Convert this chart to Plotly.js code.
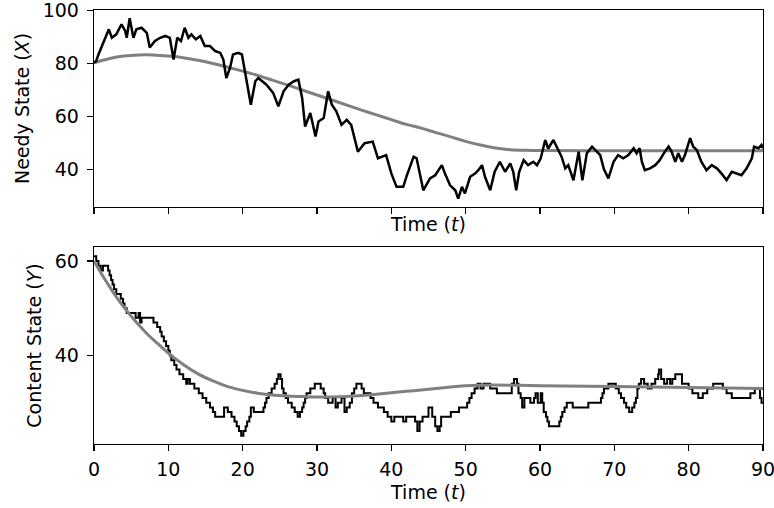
<!DOCTYPE html>
<html>
<head>
<meta charset="utf-8">
<script src="https://cdn.plot.ly/plotly-3.0.1.min.js"></script>
<style>html,body{margin:0;padding:0;background:#fff;}#chart{width:774px;height:508px;}</style>
</head>
<body>
<div id="chart"></div>
<script>
// Top panel: Needy State X(t), stochastic path
const needyT = [0,0.3,0.6,1,1.5,2,2.4,3,3.7,4.2,4.4,4.8,5.3,5.7,6.4,7.1,7.5,8.2,8.9,9.6,10.2,10.7,11.2,11.7,12.2,12.7,13.1,13.7,14.3,14.9,15.6,16.3,17,17.4,17.8,18.3,18.7,19.4,19.9,20.5,21.1,21.7,22.1,23.2,24.1,24.8,25.5,26.2,26.9,27.5,28,28.4,29.1,29.8,30.2,30.9,31.5,32,32.6,33.3,34,34.6,35.5,36.4,37.5,38.2,39.3,40,40.7,41.6,42.1,43,43.4,44.3,45.2,45.9,46.8,47.2,47.9,48.6,49,49.5,49.9,50.6,51.3,51.7,52.2,52.6,53.3,53.9,54.6,55.3,56,56.4,56.8,57.2,57.8,58.4,59.1,59.6,60.1,60.7,61.1,61.8,62.5,62.9,63.4,63.8,64.5,65.2,65.7,66.3,67,67.6,68.1,68.6,69.2,69.9,70.5,71.2,71.9,72.6,73,73.4,73.7,74.1,74.8,75.5,76.1,76.8,77.3,77.7,78.2,78.6,79.1,79.5,80.2,80.6,81.1,81.7,82.4,83.1,83.8,84.4,85.1,85.8,86.5,87.1,87.8,88.5,88.8,89.4,89.8,90];
const needyX = [80.3,81,83.4,86,89.7,92.9,89.7,91,94.8,92.3,89.7,97.1,89.7,92.9,93.5,91.6,86,88.5,89.7,90.4,89.7,81.5,89.7,88.5,93.5,89.7,91,89.1,90.4,86.6,86.6,84.7,84,81.5,74.5,78.3,83.4,84,83.4,74.5,64.4,73.3,74.5,72,68.9,63.8,69.5,72,73.3,73.9,67,56.2,61.3,52.4,58.1,59.4,69.5,64.4,61.9,56.8,58.7,56.8,46.7,49.9,50.5,44.2,45.4,38.5,33.4,33.4,37.8,44.8,44.2,32.1,36.6,37.8,41.6,38.5,34,32.1,29,33.4,30.9,37.2,38.5,39.7,41.6,37.2,32.1,39.1,42.9,39.1,42.3,39.1,32.1,39.1,43.5,41.6,42.9,41.6,44.2,51.1,47.9,51.1,47.3,44.8,40.4,41.6,35.9,46.7,35.9,46.1,48.6,46.7,45.4,40,36.6,42.9,45.4,44.2,45.4,48,46.1,48,42.9,39.7,40.4,41.6,43.5,46.7,48.6,46.7,42.9,46.1,42.9,45.4,51.8,48.6,47.3,42.9,39.7,41.6,40.4,38.5,36,39.1,38.5,37.8,40.4,44.2,48.6,48,49.2,48];
// Top panel: deterministic mean curve
const needyMeanT = [0,2,4,6,8,10,12,14,16,18,20,22,24,26,28,30,32,34,36,38,40,42,44,46,48,50,52,54,56,58,60,70,80,90];
const needyMean = [80.3,81.8,82.8,83.2,83.2,82.8,82.2,81.2,80,78.6,77.1,75.5,73.7,71.9,70,68.1,66.2,64.3,62.4,60.6,58.8,57,55.6,53.9,52.3,50.6,49.2,48.1,47.4,47.2,47.1,47,47,47];

// Bottom panel: Content State Y(t), integer-valued jump path
const contentT = [0,0.3,0.6,0.9,1.2,1.9,2.1,2.3,2.5,2.7,3.0,3.6,3.9,4.1,4.4,5.6,6.0,6.2,6.4,8.0,8.5,8.9,9.1,9.4,9.7,10.0,10.2,10.4,10.8,11.1,11.5,12.0,12.4,12.6,12.9,13.5,14.1,14.6,15.1,15.6,16.0,16.3,17.5,18.0,18.5,18.9,19.2,19.5,19.8,20.1,20.4,20.6,20.9,21.1,21.5,22.8,23.0,23.2,23.5,23.9,24.3,24.6,24.8,25.1,25.3,25.5,25.8,26.1,26.6,27.0,27.4,27.7,28.0,28.2,28.4,28.6,29.1,29.7,30.5,30.9,31.1,31.5,32.1,32.5,32.8,33.3,33.7,34.0,34.4,34.7,35.0,35.3,36.0,36.3,37.2,37.6,38.2,39.0,39.5,40.0,40.4,41.6,42.0,43.2,43.5,43.8,44.2,45.0,45.5,45.9,46.2,46.5,46.7,48.0,49.1,50.2,50.5,50.8,51.2,51.6,52.0,52.4,53.3,54.2,56.2,56.5,56.9,57.1,57.4,57.6,57.9,58.7,59.2,59.4,59.7,60.1,60.3,60.5,60.8,61.0,61.2,62.6,62.8,63.0,63.3,63.6,64.4,66.5,68.2,68.4,68.6,69.2,70.2,70.6,70.9,71.3,71.6,72.0,72.4,72.7,72.9,73.1,73.3,73.6,74.0,74.5,75.0,75.5,75.9,76.0,76.3,76.7,77.1,77.5,77.8,78.2,79.1,80.0,80.5,81.3,81.9,82.5,83.3,84.6,85.1,85.8,88.3,88.9,89.6,89.8,90];
const contentY = [61,60,59,58,59,58,57,56,55,54,53,52,51,50,49,48,49,47,48,47,46,45,44,43,42,41,40,39,38,37,36,35,34,35,34,33,32,31,30,29,28,27,29,28,27,26,25,24,23,24,25,26,27,29,28,29,30,31,32,33,34,35,36,35,33,32,31,30,29,28,27,28,29,30,31,32,33,34,33,32,31,30,31,29,30,31,28,29,30,32,33,34,33,32,31,30,29,28,27,26,27,26,27,26,24,26,27,29,27,25,24,25,27,28,29,30,31,32,33,34,33,34,33,32,34,35,34,32,31,29,31,30,31,32,30,32,30,28,27,26,25,26,27,28,29,30,29,30,31,32,33,34,33,32,31,30,29,28,29,30,31,33,34,35,34,33,34,35,36,37,35,34,35,34,35,36,34,33,32,31,32,33,34,33,32,31,32,33,31,30,30];
// Bottom panel: deterministic mean curve
const contentMeanT = [0,1,2,3,4,5,6,7,8,9,10,12,14,16,18,20,22,24,26,28,30,32,34,36,38,40,42,44,46,48,50,52,56,60,70,80,90];
const contentMean = [60,57.3,54.8,52.4,50.3,48.3,46.5,44.8,43.3,41.9,40.5,38.1,36.1,34.6,33.4,32.6,32,31.6,31.4,31.3,31.2,31.2,31.3,31.5,31.8,32.1,32.4,32.7,33,33.3,33.6,33.7,33.7,33.6,33.4,33.2,33];

const xTicks = [0,10,20,30,40,50,60,70,80,90];
const yTicksTop = [40,60,80,100];
const yTicksBottom = [40,60];

const FONT = {family: 'DejaVu Sans', size: 19, color: '#000'};
const axisCommon = {
  showline: true, mirror: true, linecolor: '#000', linewidth: 1.3,
  ticks: 'outside', ticklen: 6, tickwidth: 1.3, tickcolor: '#000',
  showgrid: false, zeroline: false, tickfont: FONT, ticklabeloverflow: 'allow'
};

const traces = [
  {x: needyMeanT, y: needyMean, xaxis: 'x', yaxis: 'y', mode: 'lines',
   line: {color: '#808080', width: 3, shape: 'spline'}, hoverinfo: 'skip'},
  {x: needyT, y: needyX, xaxis: 'x', yaxis: 'y', mode: 'lines',
   line: {color: '#000', width: 2.5}, hoverinfo: 'skip'},
  {x: contentT, y: contentY, xaxis: 'x2', yaxis: 'y2', mode: 'lines',
   line: {color: '#000', width: 2, shape: 'hv'}, hoverinfo: 'skip'},
  {x: contentMeanT, y: contentMean, xaxis: 'x2', yaxis: 'y2', mode: 'lines',
   line: {color: '#808080', width: 3, shape: 'spline'}, hoverinfo: 'skip'}
];

const layout = {
  width: 774, height: 508,
  margin: {l: 94, r: 11, t: 10, b: 64},
  paper_bgcolor: '#fff', plot_bgcolor: '#fff',
  showlegend: false,
  font: FONT,
  xaxis: Object.assign({}, axisCommon, {
    domain: [0, 1], anchor: 'y', range: [0, 90], tickvals: xTicks, showticklabels: false,
    title: {text: 'Time (<i>t</i>)', font: FONT, standoff: 4}
  }),
  yaxis: Object.assign({}, axisCommon, {
    domain: [0.5461, 1], anchor: 'x', range: [25.8, 100.2], tickvals: yTicksTop,
    ticklabelstandoff: 4,
    title: {text: 'Needy State (<i>X</i>)', font: FONT, standoff: 8}
  }),
  xaxis2: Object.assign({}, axisCommon, {
    domain: [0, 1], anchor: 'y2', range: [0, 90], tickvals: xTicks,
    ticklabelstandoff: 2,
    title: {text: 'Time (<i>t</i>)', font: FONT, standoff: 6}
  }),
  yaxis2: Object.assign({}, axisCommon, {
    domain: [0, 0.4539], anchor: 'x2', range: [21.25, 62.96], tickvals: yTicksBottom,
    ticklabelstandoff: 4,
    title: {text: 'Content State (<i>Y</i>)', font: FONT, standoff: 8}
  })
};

Plotly.newPlot('chart', traces, layout, {staticPlot: true, displayModeBar: false});
</script>
</body>
</html>
